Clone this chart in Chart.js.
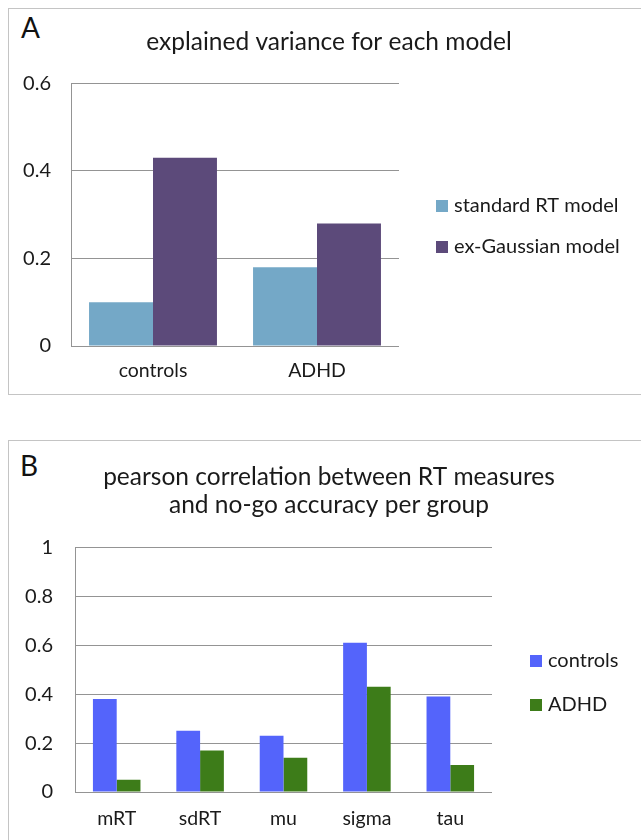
<!DOCTYPE html>
<html>
<head>
<meta charset="utf-8">
<script src="https://cdn.jsdelivr.net/npm/chart.js@4"></script>
<style>
  html, body { margin: 0; padding: 0; background: #ffffff; }
  body { width: 641px; height: 840px; position: relative; overflow: hidden; font-family: Lato, sans-serif; }
  .panel { position: absolute; border: 1px solid #c4c4c4; box-sizing: border-box; }
  .tag { position: absolute; font-family: Lato, sans-serif; font-size: 28px; color: #111; line-height: 1; }
  canvas { position: absolute; }
</style>
</head>
<body>
<div class="panel" style="left:8px; top:8px; width:634px; height:387px;"></div>
<div class="panel" style="left:8px; top:440px; width:634px; height:410px;"></div>
<div class="tag" style="left:21px; top:13px;">A</div>
<div class="tag" style="left:20px; top:451px;">B</div>
<canvas id="chartA" width="632" height="386" style="left:9px; top:9px; width:632px; height:386px;"></canvas>
<canvas id="chartB" width="632" height="400" style="left:9px; top:441px; width:632px; height:400px;"></canvas>
<script>
// ---- Panel A data ----
const groupsA = ['controls', 'ADHD'];
const standardRT = [0.10, 0.18];
const exGaussian = [0.43, 0.28];
const yTicksA = ['0', '0.2', '0.4', '0.6'];
const titleA = 'explained variance for each model';
const seriesNamesA = ['standard RT model', 'ex-Gaussian model'];

// ---- Panel B data ----
const measuresB = ['mRT', 'sdRT', 'mu', 'sigma', 'tau'];
const controlsB = [0.38, 0.25, 0.23, 0.61, 0.39];
const adhdB = [0.05, 0.17, 0.14, 0.43, 0.11];
const yTicksB = ['0', '0.2', '0.4', '0.6', '0.8', '1'];
const titleB = ['pearson correlation between RT measures', 'and no-go accuracy per group'];
const seriesNamesB = ['controls', 'ADHD'];

const FONT = 'Lato';
const TEXT = '#1a1a1a';
const GRID = '#949494';

const sideLegend = {
  id: 'sideLegend',
  afterDraw(chart, args, opts) {
    const ctx = chart.ctx;
    ctx.save();
    ctx.font = opts.fontSize + 'px ' + FONT;
    ctx.textBaseline = 'middle';
    ctx.textAlign = 'left';
    chart.data.datasets.forEach((ds, i) => {
      const y = opts.y + i * opts.spacing;
      ctx.fillStyle = ds.backgroundColor;
      ctx.fillRect(opts.x, y - opts.box / 2, opts.box, opts.box);
      ctx.fillStyle = TEXT;
      ctx.fillText(ds.label, opts.x + opts.box + opts.gap, y);
    });
    ctx.restore();
  }
};

function makeChart(id, cfg) {
  return new Chart(document.getElementById(id), {
    type: 'bar',
    data: {
      labels: cfg.labels,
      datasets: cfg.series.map((s, i) => ({
        label: cfg.names[i],
        data: s,
        backgroundColor: cfg.colors[i],
        borderWidth: 0,
        categoryPercentage: cfg.catPct,
        barPercentage: 1.0,
        yAxisID: 'y'
      }))
    },
    options: {
      responsive: false,
      animation: false,
      events: [],
      layout: { padding: { left: 8, right: 0, top: 0, bottom: 0 } },
      plugins: {
        legend: { display: false },
        tooltip: { enabled: false },
        title: {
          display: true,
          text: cfg.title,
          color: TEXT,
          font: { family: FONT, size: 24.5, weight: 'normal', lineHeight: cfg.titleLH },
          padding: cfg.titlePad
        },
        sideLegend: cfg.legend
      },
      scales: {
        x: {
          grid: { display: false, drawTicks: false },
          border: { display: false },
          ticks: { color: TEXT, font: { family: FONT, size: 19.5 }, padding: cfg.xPad },
          afterFit: s => { s.height = cfg.xHeight; }
        },
        y: {
          min: 0,
          max: cfg.yMax,
          grid: { color: GRID, lineWidth: 1, drawTicks: false },
          border: { display: true, color: GRID, width: 1 },
          ticks: {
            stepSize: 0.2,
            color: TEXT,
            font: { family: FONT, size: 20 },
            padding: cfg.yPad,
            callback: (v, i) => cfg.yTicks[i]
          },
          afterFit: s => { s.width = cfg.yWidth; }
        },
        legendSpace: {
          type: 'linear',
          position: 'right',
          grid: { display: false, drawTicks: false },
          border: { display: false },
          ticks: { display: false },
          afterFit: s => { s.width = cfg.rightSpace; }
        }
      }
    },
    plugins: [sideLegend]
  });
}

makeChart('chartA', {
  labels: groupsA,
  series: [standardRT, exGaussian],
  names: seriesNamesA,
  colors: ['#74a8c7', '#5c4a7a'],
  catPct: 0.78,
  rightSpace: 242,
  title: titleA,
  titleLH: 1.2,
  titlePad: { top: 18.5, bottom: 26.5 },
  xPad: 13,
  xHeight: 49,
  yMax: 0.6,
  yTicks: yTicksA,
  yPad: 20,
  yWidth: 54,
  legend: { x: 427, y: 197, spacing: 41, box: 12, gap: 6, fontSize: 20 }
});

makeChart('chartB', {
  labels: measuresB,
  series: [controlsB, adhdB],
  names: seriesNamesB,
  colors: ['#5464fb', '#3d7c19'],
  catPct: 0.57,
  rightSpace: 149,
  title: titleB,
  titleLH: 1.15,
  titlePad: { top: 22, bottom: 28 },
  xPad: 15,
  xHeight: 49,
  yMax: 1,
  yTicks: yTicksB,
  yPad: 22,
  yWidth: 58,
  legend: { x: 521, y: 220, spacing: 44, box: 12, gap: 6, fontSize: 20 }
});
</script>
</body>
</html>
